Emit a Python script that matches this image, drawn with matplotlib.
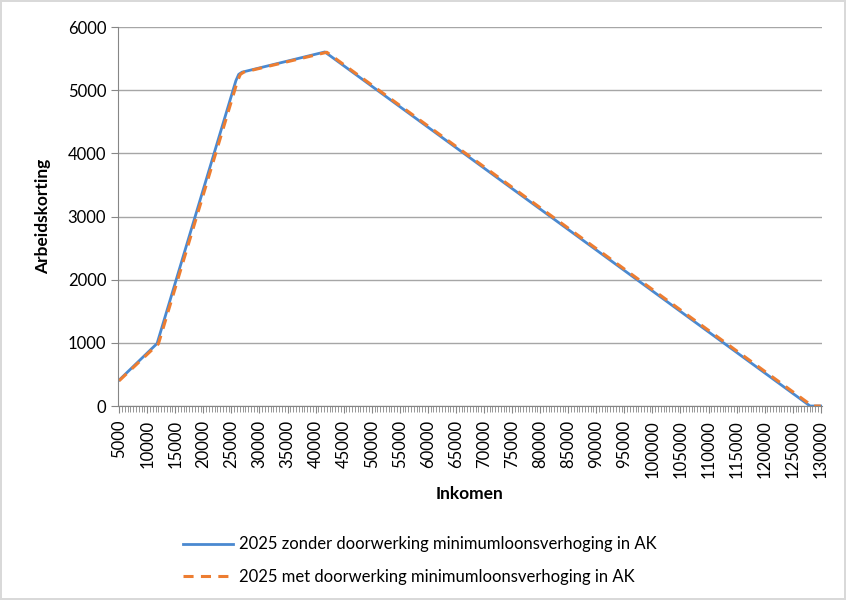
import numpy as np
import matplotlib.pyplot as plt
from matplotlib.ticker import MultipleLocator

plt.rcParams['font.family'] = ['Lato', 'DejaVu Sans']

# kinks of the arbeidskorting curve (inkomen, korting)
ink_zonder = [5000, 11760, 25800, 26300, 26900, 41650, 128100, 130000]
ak_zonder = [410, 990, 5150, 5250, 5285, 5605, 0, 0]
ink_met = [5000, 12000, 26100, 26600, 27200, 42000, 128500, 130000]
ak_met = [400, 985, 5150, 5250, 5285, 5600, 0, 0]
labels = ["2025 zonder doorwerking minimumloonsverhoging in AK",
          "2025 met doorwerking minimumloonsverhoging in AK"]

fig = plt.figure(figsize=(8.46, 6), dpi=100)
fig.patch.set_edgecolor('#d9d9d9')
fig.patch.set_linewidth(1.5)
ax = fig.add_axes([0.1395, 0.3233, 0.832, 0.6317])

ax.plot(ink_zonder, ak_zonder, '-', color='#4a89d0', lw=2, label=labels[0])
ax.plot(ink_met, ak_met, '--', color='#ed7d31', lw=2.2, dashes=(3.3, 2.4), label=labels[1])

ax.set_xlim(4800, 130200)
ax.set_ylim(0, 6000)
ax.xaxis.set_minor_locator(MultipleLocator(500))
ax.yaxis.set_major_locator(MultipleLocator(1000))
ax.set_xticks(np.arange(5000, 130001, 5000))
ax.set_xticklabels([str(v) for v in range(5000, 130001, 5000)], rotation=90, fontsize=12)
ax.tick_params(axis='y', labelsize=12, length=5, color='#868686')
ax.tick_params(axis='x', which='major', length=5, color='#868686', pad=5)
ax.tick_params(axis='x', which='minor', length=4, color='#868686')
ax.grid(axis='y', color='#a6a6a6', lw=1)
ax.set_axisbelow(True)
for s in ['top', 'right']:
    ax.spines[s].set_visible(False)
for s in ['left', 'bottom']:
    ax.spines[s].set_color('#868686')

ax.set_ylabel("Arbeidskorting", fontsize=12.5, fontweight='bold', labelpad=12)
ax.set_xlabel("Inkomen", fontsize=12.5, fontweight='bold', labelpad=6)

fig.legend(loc='lower center', bbox_to_anchor=(0.4965, 0.0), frameon=False,
           fontsize=12, labelspacing=1.0, handlelength=3, handletextpad=0.35)

plt.savefig("out.png", dpi=100)
